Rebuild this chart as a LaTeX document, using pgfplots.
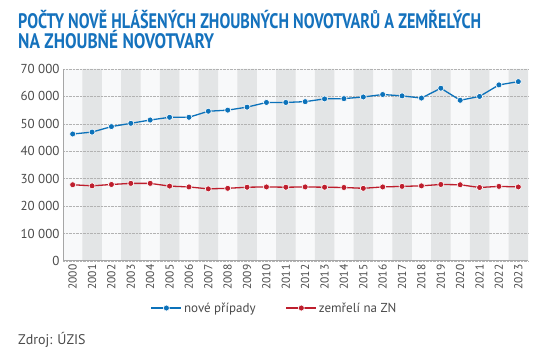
\documentclass[border=0pt]{standalone}
\usepackage{fontspec}
\setmainfont{PT Sans}
\usepackage{pgfplots}
\pgfplotsset{compat=1.18}
\definecolor{cblue}{HTML}{0C72BA}
\definecolor{cred}{HTML}{BE1E2D}
\definecolor{ctitle}{HTML}{1572BD}
\definecolor{bandg}{HTML}{E3E5E6}
\definecolor{bandw}{HTML}{F8F9FA}
\definecolor{ctext}{HTML}{4A4A4A}
\begin{document}
\begin{tikzpicture}
\begin{axis}[
  set layers=standard,
  at={(63pt,97pt)}, anchor=south west,
  scale only axis, width=465pt, height=192pt,
  xmin=-0.5, xmax=23.5, ymin=0, ymax=70000,
  scaled y ticks=false,
  axis background/.style={fill=bandw},
  axis x line*=bottom, axis y line*=left,
  axis line style={draw=gray!70, line width=1pt, -},
  xtick={0,...,23},
  xticklabels={2000,2001,2002,2003,2004,2005,2006,2007,2008,2009,2010,2011,2012,2013,2014,2015,2016,2017,2018,2019,2020,2021,2022,2023},
  x tick label style={rotate=90, anchor=east, font=\fontsize{11.5}{12}\selectfont, text=ctext},
  ytick={0,10000,...,70000},
  yticklabels={0,10 000,20 000,30 000,40 000,50 000,60 000,70 000},
  y tick label style={font=\fontsize{13}{14}\selectfont, text=ctext},
  major tick length=0pt,
  ymajorgrids, grid style={densely dotted, gray!60, line width=0.6pt},
  legend style={at={(0.455,-0.245)}, anchor=center, draw=none, fill=none, font=\fontsize{13}{14}\selectfont, text=ctext, legend columns=2, /tikz/every even column/.append style={column sep=28pt}},
  legend image code/.code={\draw[#1, mark repeat=2, mark phase=2] plot coordinates {(0pt,0pt) (15pt,0pt) (30pt,0pt)};},
]
\addplot[on layer=axis background, fill=bandg, draw=none, forget plot] coordinates {
(0.5,0) (0.5,70000) (1.5,70000) (1.5,0)
(2.5,0) (2.5,70000) (3.5,70000) (3.5,0)
(4.5,0) (4.5,70000) (5.5,70000) (5.5,0)
(6.5,0) (6.5,70000) (7.5,70000) (7.5,0)
(8.5,0) (8.5,70000) (9.5,70000) (9.5,0)
(10.5,0) (10.5,70000) (11.5,70000) (11.5,0)
(12.5,0) (12.5,70000) (13.5,70000) (13.5,0)
(14.5,0) (14.5,70000) (15.5,70000) (15.5,0)
(16.5,0) (16.5,70000) (17.5,70000) (17.5,0)
(18.5,0) (18.5,70000) (19.5,70000) (19.5,0)
(20.5,0) (20.5,70000) (21.5,70000) (21.5,0)
(22.5,0) (22.5,70000) (23.5,70000) (23.5,0)} -- cycle;
\addplot[cblue, line width=1.3pt, mark=*, mark size=3pt, mark options={fill=cblue, draw=white, line width=0.6pt}] coordinates {
(0,46300) (1,47000) (2,49000) (3,50200) (4,51400) (5,52400) (6,52400) (7,54600) (8,55000) (9,56100) (10,57800) (11,57800) (12,58100) (13,59100) (14,59200) (15,59800) (16,60700) (17,60200) (18,59400) (19,63000) (20,58600) (21,60000) (22,64200) (23,65400)};
\addlegendentry{nové případy}
\addplot[cred, line width=1.3pt, mark=*, mark size=3pt, mark options={fill=cred, draw=white, line width=0.6pt}] coordinates {
(0,27800) (1,27400) (2,27900) (3,28300) (4,28300) (5,27300) (6,27000) (7,26300) (8,26500) (9,26900) (10,27000) (11,26900) (12,27000) (13,26900) (14,26800) (15,26500) (16,27000) (17,27200) (18,27400) (19,27900) (20,27800) (21,26800) (22,27200) (23,27000)};
\addlegendentry{zemřelí na ZN}
\end{axis}
\node[anchor=base west, inner sep=0pt, text=ctitle] at (18pt,329pt) {\resizebox{463pt}{\height}{\fontsize{21}{24}\selectfont\bfseries POČTY NOVĚ HLÁŠENÝCH ZHOUBNÝCH NOVOTVARŮ A ZEMŘELÝCH}};
\node[anchor=base west, inner sep=0pt, text=ctitle] at (18pt,309pt) {\resizebox{196pt}{\height}{\fontsize{21}{24}\selectfont\bfseries NA ZHOUBNÉ NOVOTVARY}};
\node[anchor=base west, inner sep=0pt, text=ctext] at (18pt,13pt) {\fontsize{14}{16}\selectfont Zdroj: ÚZIS};
\path (0pt,0pt) rectangle (549pt,358pt);
\end{tikzpicture}
\end{document}
